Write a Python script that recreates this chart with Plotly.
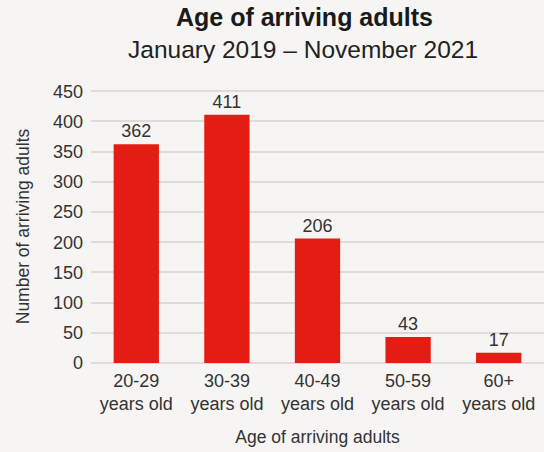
import plotly.graph_objects as go

# Age bands and counts of arriving adults
categories = ["20-29<br>years old", "30-39<br>years old", "40-49<br>years old",
              "50-59<br>years old", "60+<br>years old"]
counts = [362, 411, 206, 43, 17]
y_ticks = [0, 50, 100, 150, 200, 250, 300, 350, 400, 450]

BAR_RED = "#e31c14"
BG = "#f6f5f3"
GRID = "#dddcda"
TEXT = "#333333"
FONT = "Liberation Sans, Arial, sans-serif"

fig = go.Figure(
    go.Bar(
        x=categories,
        y=counts,
        marker=dict(color=BAR_RED, line=dict(width=0)),
        width=0.5,
        text=[str(v) for v in counts],
        textposition="outside",
        textfont=dict(family=FONT, size=18, color=TEXT),
        cliponaxis=False,
        hoverinfo="x+y",
    )
)

fig.update_layout(
    width=544,
    height=452,
    paper_bgcolor=BG,
    plot_bgcolor=BG,
    margin=dict(l=91, r=0, t=90, b=89),
    showlegend=False,
    bargap=0.5,
    font=dict(family=FONT, color=TEXT),
)

# Title and subtitle placed in pixel-based paper coordinates
plot_h = 452 - 90 - 89
def paper_y(py):
    return (452 - 89 - py) / plot_h

fig.layout.annotations = [
    dict(text="<b>Age of arriving adults</b>", x=0.471, y=paper_y(17),
         xref="paper", yref="paper", showarrow=False,
         font=dict(size=25, color="#1a1a1a", family=FONT),
         xanchor="center", yanchor="middle"),
    dict(text="January 2019 – November 2021", x=0.467, y=paper_y(49),
         xref="paper", yref="paper", showarrow=False,
         font=dict(size=24.5, color="#222222", family=FONT),
         xanchor="center", yanchor="middle"),
]

fig.update_xaxes(
    title=dict(text="Age of arriving adults", font=dict(size=17.5, color=TEXT),
               standoff=17),
    tickfont=dict(size=18, color=TEXT),
    ticklabelstandoff=5,
    showline=False,
    ticks="",
    showgrid=False,
)
fig.update_yaxes(
    title=dict(text="Number of arriving adults", font=dict(size=17.5, color=TEXT),
               standoff=18),
    range=[0, 452],
    tickvals=y_ticks,
    tickfont=dict(size=18, color=TEXT),
    ticklabelstandoff=7,
    showgrid=True,
    gridcolor=GRID,
    gridwidth=1.5,
    zeroline=True,
    zerolinecolor=GRID,
    zerolinewidth=1.5,
    ticks="",
    ticklen=0,
)

fig.write_html("out.html")
